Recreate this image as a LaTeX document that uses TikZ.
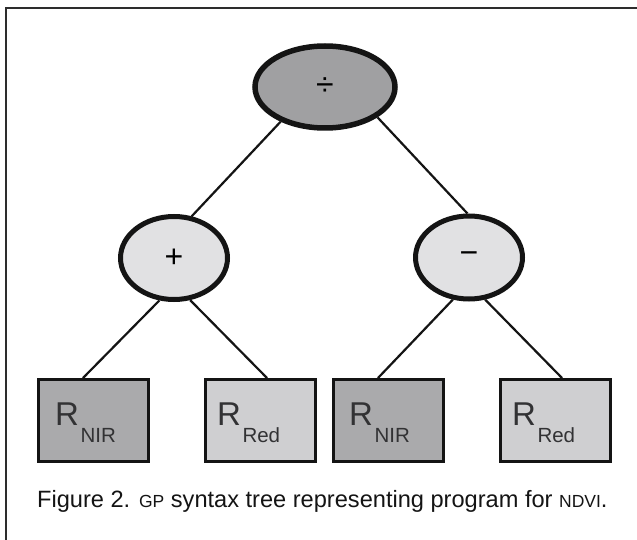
\documentclass[tikz,border=0pt]{standalone}
\usepackage{fontspec}
\setmainfont{Liberation Sans}
\usetikzlibrary{shapes.geometric}

\definecolor{rootfill}{RGB}{160,160,162}
\definecolor{opfill}{RGB}{225,225,227}
\definecolor{darkbox}{RGB}{170,170,172}
\definecolor{lightbox}{RGB}{207,207,209}
\definecolor{ink}{RGB}{20,20,20}
\definecolor{textgray}{RGB}{50,50,52}
\definecolor{framegray}{RGB}{45,45,45}

\tikzset{
  opnode/.style={ellipse, draw=ink, fill=opfill, line width=5pt, inner sep=0pt,
    minimum width=107pt, minimum height=83pt, font=\fontsize{32}{32}\selectfont},
  rootnode/.style={opnode, fill=rootfill, line width=5.5pt,
    minimum width=140pt, minimum height=82pt},
  leafbox/.style={rectangle, draw=ink, line width=3pt, inner sep=0pt,
    minimum width=110pt, minimum height=82pt},
  leaflabel/.style={anchor=base west, inner sep=0pt, text=textgray},
  edge/.style={draw=ink, line width=2.2pt},
}

\newcommand{\leafsym}[1]{{\fontsize{33}{33}\selectfont R}\kern1.5pt\raisebox{-17pt}{\fontsize{20.5}{20.5}\selectfont #1}}
\newcommand{\smallcapsish}[1]{{\fontsize{17.5}{17.5}\selectfont #1}}

\begin{document}
\begin{tikzpicture}[x=1pt, y=-1pt]
  \useasboundingbox (0,0) rectangle (637,540);
  \fill[white] (0,0) rectangle (637,540);

  % outer frame (only top and left edges fall inside the page)
  \draw[framegray, line width=2pt] (6,545) -- (6,8) -- (645,8);

  % operators
  \node[rootnode] (root) at (325,87) {\raisebox{-4pt}{÷}};
  \node[opnode] (plus) at (174,258) {\raisebox{-4pt}{+}};
  \node[opnode] (minus) at (469,257.5) {\raisebox{-4pt}{−}};

  % terminals
  \node[leafbox, fill=darkbox]  (b1) at (93.5,420.5) {};
  \node[leafbox, fill=lightbox] (b2) at (260,420.5) {};
  \node[leafbox, fill=darkbox]  (b3) at (388.5,420.5) {};
  \node[leafbox, fill=lightbox] (b4) at (555,420.5) {};

  \node[leaflabel] (l1) at (55,425) {\leafsym{NIR}};
  \node[leaflabel] (l2) at (217,425) {\leafsym{Red}};
  \node[leaflabel] (l3) at (349,425) {\leafsym{NIR}};
  \node[leaflabel] (l4) at (512,425) {\leafsym{Red}};

  % attachment points on the box tops
  \coordinate (a1) at ([xshift=-10.5pt]b1.north);
  \coordinate (a2) at ([xshift=7pt]b2.north);
  \coordinate (a3) at ([xshift=-10.5pt]b3.north);
  \coordinate (a4) at ([xshift=7pt]b4.north);

  % edges
  \draw[edge] (root.218) -- (plus.67);
  \draw[edge] (root.-30) -- (minus.92);
  \draw[edge] (plus.-109) -- (a1);
  \draw[edge] (plus.-69) -- (a2);
  \draw[edge] (minus.-111) -- (a3);
  \draw[edge] (minus.-69) -- (a4);

  % caption
  \node[anchor=base west, inner sep=0pt, text=ink, font=\fontsize{23.6}{23.6}\selectfont] (cap) at (37,507)
    {Figure 2. \smallcapsish{GP} syntax tree representing program for \smallcapsish{NDVI}.};
\end{tikzpicture}
\end{document}
